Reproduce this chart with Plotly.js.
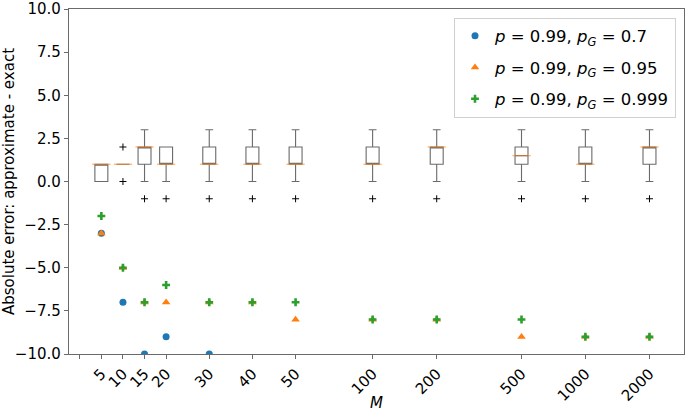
<!DOCTYPE html>
<html>
<head>
<meta charset="utf-8">
<script src="https://cdn.plot.ly/plotly-3.0.1.min.js"></script>
<style>html,body{margin:0;padding:0;background:#fff;}#chart{width:685px;height:412px;}</style>
</head>
<body>
<div id="chart"></div>
<script>
// Category labels (M) and their slot on the x axis (as in the reference's uneven spacing)
const M = ["5","10","15","20","30","40","50","100","200","500","1000","2000"];
const xSlot = [1,2,3,4,6,8,10,13.57,16.54,20.47,23.43,26.4];

// Scatter series: approximate - exact
const s07   = [-3,-7,-10,-9,-10,null,null,null,null,null,null,null];
const s095  = [-3,-5,-7,-7,-7,-7,-8,-8,-8,-9,-9,-9];
const s0999 = [-2,-5,-7,-6,-7,-7,-7,-8,-8,-8,-9,-9];

// Box statistics per M
const q1     = [0,1,1,1,1,1,1,1,1,1,1,1];
const median = [1,1,2,1,1,1,1,1,2,1.5,1,2];
const q3     = [1,1,2,2,2,2,2,2,2,2,2,2];
const lowF   = [0,1,0,0,0,0,0,0,0,0,0,0];
const upF    = [1,1,3,2,3,3,3,3,3,3,3,3];

// Outliers
const outX = ["10","10","15","20","30","40","50","100","200","500","1000","2000"];
const outY = [2,0,-1,-1,-1,-1,-1,-1,-1,-1,-1,-1];

const slotOf = m => xSlot[M.indexOf(m)];
const font = {family: "DejaVu Sans, sans-serif", size: 15, color: "#000"};
const legFont = {family: "DejaVu Sans, sans-serif", size: 16.5, color: "#000"};
const gray = "#6a6a6a";

const traces = [
  {type: "box", x: xSlot, q1: q1, median: median, q3: q3, lowerfence: lowF, upperfence: upF,
   width: 0.6, whiskerwidth: 0.6, boxpoints: false, fillcolor: "rgba(0,0,0,0)",
   line: {color: gray, width: 1.1}, showlegend: false, hoverinfo: "skip"},
  {type: "scatter", mode: "markers", x: xSlot, y: median, showlegend: false, hoverinfo: "skip",
   marker: {symbol: "line-ew", size: 13, line: {color: "rgba(255,127,14,0.6)", width: 1.3}}},
  {type: "scatter", mode: "markers", x: outX.map(slotOf), y: outY, showlegend: false, hoverinfo: "skip",
   marker: {symbol: "cross-thin", size: 5, line: {color: "#000", width: 1}}},
  {type: "scatter", mode: "markers", x: xSlot, y: s07, legendgroup: "a",
   name: "<i>p</i> = 0.99, <i>p<sub>G</sub></i> = 0.7",
   marker: {symbol: "circle", size: 7, color: "#1f77b4"}},
  {type: "scatter", mode: "markers", x: xSlot, y: s095, legendgroup: "b",
   name: "<i>p</i> = 0.99, <i>p<sub>G</sub></i> = 0.95",
   marker: {symbol: "triangle-up", size: 7.5, color: "#ff7f0e"}},
  {type: "scatter", mode: "markers", x: xSlot, y: s0999, legendgroup: "c",
   name: "<i>p</i> = 0.99, <i>p<sub>G</sub></i> = 0.999",
   marker: {symbol: "cross", size: 6.5, color: "#2ca02c"}}
];

const layout = {
  width: 685, height: 412,
  margin: {l: 69, r: 1, t: 9, b: 58},
  paper_bgcolor: "#fff", plot_bgcolor: "#fff",
  font: font,
  showlegend: true,
  legend: {x: 0.987, y: 0.975, xanchor: "right", yanchor: "top",
           bgcolor: "#fff", bordercolor: "#d0d0d0", borderwidth: 1,
           tracegroupgap: 7, font: legFont},
  xaxis: {
    range: [-0.5, 28], tickmode: "array",
    tickvals: [0].concat(xSlot), ticktext: [""].concat(M),
    tickangle: -45, ticks: "outside", ticklen: 4, tickcolor: gray,
    showline: true, linecolor: gray, linewidth: 1.2, mirror: true,
    showgrid: false, zeroline: false, tickfont: font,
    title: {text: "<i>M</i>", font: font, standoff: 2}
  },
  yaxis: {
    range: [-10, 10], tickmode: "linear", tick0: -10, dtick: 2.5, tickformat: ".1f",
    ticks: "outside", ticklen: 4, tickcolor: gray, ticklabeloverflow: "allow",
    showline: true, linecolor: gray, linewidth: 1.2, mirror: true,
    showgrid: false, zeroline: false, tickfont: font,
    title: {text: "Absolute error: approximate - exact", font: font, standoff: 4}
  }
};

Plotly.newPlot("chart", traces, layout, {staticPlot: true, displayModeBar: false});
</script>
</body>
</html>
